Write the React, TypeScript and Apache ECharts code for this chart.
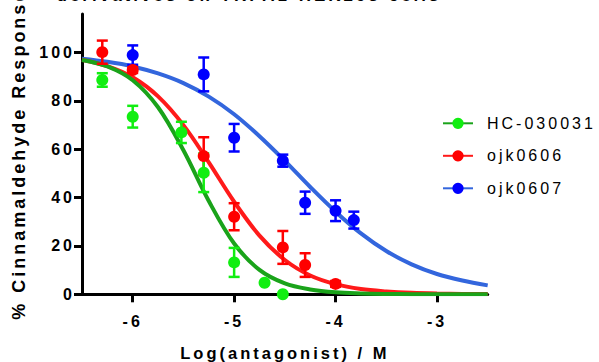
import React, { useEffect, useRef } from "react";
import * as echarts from "echarts";

const FONT = '"Liberation Sans", Arial, sans-serif';

const titleText = "derivatives on TRPA1-HEK293 cells";
const xAxisTitle = "Log(antagonist) / M";
const yAxisTitle = "% Cinnamaldehyde Response";

const compounds = ["HC-030031", "ojk0606", "ojk0607"];
const pointColors = ["#11ee11", "#ff0000", "#0000ff"];
const curveColors = ["#1aa31a", "#ff1a1a", "#3366dd"];

// Measured responses: log10 [antagonist] (M), mean % response, SEM
const hcLogConc = [-6.3, -6.0, -5.52, -5.3, -5.0, -4.7, -4.52];
const hcResponse = [88.7, 73.5, 67.0, 50.3, 13.2, 4.8, 0.0];
const hcSem = [2.8, 4.5, 4.4, 8.0, 6.0, 0, 0];

const o606LogConc = [-6.3, -6.0, -5.3, -5.0, -4.52, -4.3, -4.0];
const o606Response = [100.2, 92.8, 57.2, 32.1, 19.4, 12.1, 4.3];
const o606Sem = [4.8, 1.2, 7.8, 5.6, 6.8, 4.9, 1.2];

const o607LogConc = [-6.0, -5.3, -5.0, -4.52, -4.3, -4.0, -3.82];
const o607Response = [99.0, 91.0, 64.8, 55.3, 37.9, 34.6, 30.7];
const o607Sem = [4.0, 7.0, 5.7, 2.5, 4.6, 4.3, 3.5];

// Fitted inhibition curves, sampled every 0.25 log unit
const curveLogConc = [
  -6.5, -6.25, -6.0, -5.75, -5.5, -5.25, -5.0, -4.75, -4.5, -4.25, -4.0, -3.75,
  -3.5, -3.25, -3.0, -2.75, -2.5,
];
const hcFit = [
  97.0, 94.3, 88.6, 77.4, 59.6, 38.6, 21.0, 10.1, 4.5, 2.0, 0.8, 0.35, 0.15,
  0.06, 0.03, 0.01, 0.0,
];
const o606Fit = [
  97.1, 94.4, 89.8, 81.9, 70.0, 54.6, 38.3, 24.3, 14.2, 7.8, 4.2, 2.2, 1.2, 0.6,
  0.3, 0.16, 0.08,
];
const o607Fit = [
  97.5, 96.2, 94.3, 91.4, 87.4, 81.8, 74.5, 65.4, 55.2, 44.4, 34.2, 25.2, 17.9,
  12.4, 8.4, 5.7, 3.7,
];

const xTicks = [-6, -5, -4, -3];
const yTicks = [0, 20, 40, 60, 80, 100];

const groups = [
  { x: hcLogConc, y: hcResponse, e: hcSem, fit: hcFit },
  { x: o606LogConc, y: o606Response, e: o606Sem, fit: o606Fit },
  { x: o607LogConc, y: o607Response, e: o607Sem, fit: o607Fit },
];

function curveSeries(i: number) {
  return {
    name: compounds[i],
    type: "line",
    data: curveLogConc.map((x, k) => [x, groups[i].fit[k]]),
    smooth: 0.35,
    symbol: "circle",
    showSymbol: false,
    itemStyle: { color: pointColors[i] },
    lineStyle: { color: curveColors[i], width: 4 },
    z: 2,
    silent: true,
  };
}

function errorSeries(i: number) {
  const g = groups[i];
  const color = pointColors[i];
  return {
    name: compounds[i],
    type: "custom",
    data: g.x.map((x, k) => [x, g.y[k] - g.e[k], g.y[k] + g.e[k], g.e[k]]),
    encode: { x: 0, y: [1, 2] },
    z: 3,
    silent: true,
    renderItem: (_params: any, api: any) => {
      if (!(api.value(3) > 0)) return null;
      const x = api.value(0);
      const lo = api.coord([x, api.value(1)]);
      const hi = api.coord([x, api.value(2)]);
      const half = 5.5;
      const style = { stroke: color, lineWidth: 2.5, fill: "none" };
      return {
        type: "group",
        children: [
          { type: "line", shape: { x1: lo[0], y1: lo[1], x2: hi[0], y2: hi[1] }, style },
          { type: "line", shape: { x1: hi[0] - half, y1: hi[1], x2: hi[0] + half, y2: hi[1] }, style },
          { type: "line", shape: { x1: lo[0] - half, y1: lo[1], x2: lo[0] + half, y2: lo[1] }, style },
        ],
      };
    },
  };
}

function pointSeries(i: number) {
  const g = groups[i];
  return {
    name: compounds[i],
    type: "scatter",
    data: g.x.map((x, k) => [x, g.y[k]]),
    symbol: "circle",
    symbolSize: 12,
    itemStyle: { color: pointColors[i], opacity: 1 },
    z: 4,
    silent: true,
  };
}

export default function App() {
  const ref = useRef<HTMLDivElement>(null);

  useEffect(() => {
    if (!ref.current) return;
    const chart = echarts.init(ref.current, null, { renderer: "svg" });
    const axisText = { fontFamily: FONT, fontWeight: "bold", fontSize: 16, color: "#000" };
    chart.setOption({
      animation: false,
      backgroundColor: "#fff",
      grid: { left: 82, top: 14, width: 405.7, height: 280.3, containLabel: false, outerBoundsMode: "none" },
      graphic: [
        {
          type: "text",
          x: 249,
          y: -5,
          style: {
            text: titleText,
            font: `bold 17px ${FONT}`,
            fill: "#000",
            align: "center",
            verticalAlign: "middle",
          },
        },
      ],
      legend: {
        orient: "vertical",
        left: 442,
        top: 115.3,
        padding: 0,
        itemWidth: 30,
        itemHeight: 14,
        itemGap: 16.5,
        selectedMode: false,
        data: compounds,
        textStyle: { fontFamily: FONT, fontSize: 16, color: "#000", padding: [0, 0, 0, 9] },
      },
      xAxis: {
        type: "value",
        min: -6.5,
        max: -2.5,
        name: xAxisTitle,
        nameLocation: "middle",
        nameGap: 50,
        nameTextStyle: { ...axisText, fontSize: 16.5 },
        splitLine: { show: false },
        axisLine: { show: true, onZero: false, lineStyle: { color: "#000", width: 3 } },
        axisTick: { show: true, length: 8, lineStyle: { color: "#000", width: 3 }, customValues: xTicks },
        axisLabel: { ...axisText, margin: 19, customValues: xTicks },
      },
      yAxis: {
        type: "value",
        min: 0,
        max: 116,
        name: yAxisTitle,
        nameLocation: "middle",
        nameGap: 54,
        nameTextStyle: { ...axisText, fontSize: 18 },
        splitLine: { show: false },
        axisLine: { show: true, onZero: false, lineStyle: { color: "#000", width: 3 } },
        axisTick: { show: true, length: 8, lineStyle: { color: "#000", width: 3 }, customValues: yTicks },
        axisLabel: { ...axisText, margin: 7, customValues: yTicks },
      },
      series: [
        curveSeries(2),
        curveSeries(1),
        curveSeries(0),
        errorSeries(2),
        errorSeries(1),
        errorSeries(0),
        pointSeries(2),
        pointSeries(1),
        pointSeries(0),
      ],
    });
    return () => chart.dispose();
  }, []);

  return (
    <>
      <style>{".dr-chart text{letter-spacing:3px}"}</style>
      <div
        ref={ref}
        className="dr-chart"
        style={{ position: "absolute", left: 0, top: 0, width: 599, height: 362 }}
      />
    </>
  );
}
